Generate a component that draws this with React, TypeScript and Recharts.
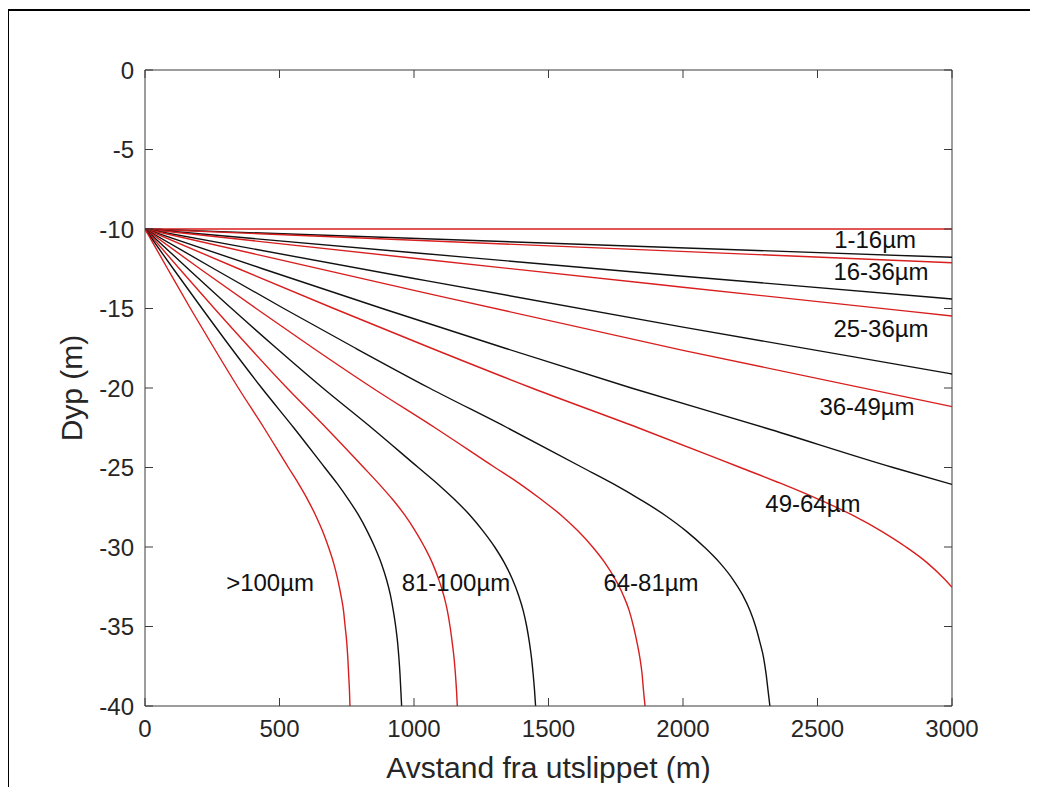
import { LineChart, Line, XAxis, YAxis, ReferenceLine, ReferenceDot } from 'recharts'

// depth levels (m) used for the steep trajectories
const depthLevels = [-10, -12.5, -15, -17.5, -20, -22.5, -25, -26, -27, -28, -29, -30, -31, -32, -33, -34, -35, -36, -37, -38, -39, -40]

// distance (m) read at each depth level
const distOver100 = [0, 84, 169, 257, 347, 442, 533, 570, 604, 634, 660, 682, 701, 716, 728, 738, 744, 750, 754, 757, 760, 762]
const dist81to100b = [0, 105, 212, 321, 434, 553, 668, 714, 756, 794, 826, 854, 878, 897, 912, 923, 932, 939, 944, 948, 951, 954]
const dist81to100r = [0, 128, 258, 391, 528, 673, 813, 868, 920, 966, 1005, 1039, 1068, 1091, 1110, 1124, 1134, 1142, 1149, 1154, 1158, 1161]
const dist64to81b = [0, 160, 322, 489, 661, 842, 1016, 1086, 1150, 1208, 1257, 1300, 1336, 1365, 1388, 1406, 1419, 1429, 1437, 1443, 1448, 1452]
const dist64to81r = [0, 204, 413, 626, 846, 1078, 1301, 1391, 1472, 1547, 1610, 1664, 1710, 1747, 1777, 1800, 1816, 1829, 1840, 1848, 1853, 1859]
const dist49to64b = [0, 256, 516, 783, 1057, 1347, 1626, 1738, 1840, 1933, 2012, 2079, 2137, 2184, 2221, 2249, 2270, 2286, 2300, 2309, 2316, 2323]

// trajectories that leave the plot at x = 3000
const dist49to64rX = [0, 348, 702, 1065, 1438, 1833, 2213, 2364, 2504, 2630, 2737, 2829, 2908, 2971, 3000]
const dist49to64rY = [-10, -12.5, -15, -17.5, -20, -22.5, -25, -26, -27, -28, -29, -30, -31, -32, -32.54]
const dist36to49bX = [0, 437, 882, 1339, 1808, 2304, 2781, 3000]
const dist36to49bY = [-10, -12.5, -15, -17.5, -20, -22.5, -25, -26.06]
const shallowX = [0, 1000, 2000, 3000]
const shallow36r = [-10, -13.86, -17.63, -21.17]
const shallow25b = [-10, -13.11, -16.17, -19.12]
const shallow25r = [-10, -11.84, -13.66, -15.47]
const shallow16b = [-10, -11.49, -12.97, -14.4]
const flatX = [0, 3000]
const flat16r = [-10, -12.12]
const flat1b = [-10, -11.78]
const flat1r = [-10, -10]

const xTicks = [0, 500, 1000, 1500, 2000, 2500, 3000]
const yTicks = [-40, -35, -30, -25, -20, -15, -10, -5, 0]

const curveLabels = [
  { text: '1-16µm', x: 2714, y: -10.65 },
  { text: '16-36µm', x: 2736, y: -12.65 },
  { text: '25-36µm', x: 2736, y: -16.25 },
  { text: '36-49µm', x: 2684, y: -21.15 },
  { text: '49-64µm', x: 2483, y: -27.25 },
  { text: '64-81µm', x: 1881, y: -32.2 },
  { text: '81-100µm', x: 1156, y: -32.2 },
  { text: '>100µm', x: 465, y: -32.2 },
]

const zip = (xs: number[], ys: number[]) => xs.map((x, i) => ({ x, y: ys[i] }))
const fromDepth = (xs: number[]) => zip(xs, depthLevels)

const RED = '#d81e1e'
const BLACK = '#111111'
const AXIS = '#3a3a3a'
const TXT = '#262626'
const FONT = 'Liberation Sans, Arial, sans-serif'

const series = [
  { id: 'r1', color: RED, data: zip(flatX, flat1r) },
  { id: 'b1', color: BLACK, data: zip(flatX, flat1b) },
  { id: 'r2', color: RED, data: zip(flatX, flat16r) },
  { id: 'b2', color: BLACK, data: zip(shallowX, shallow16b) },
  { id: 'r3', color: RED, data: zip(shallowX, shallow25r) },
  { id: 'b3', color: BLACK, data: zip(shallowX, shallow25b) },
  { id: 'r4', color: RED, data: zip(shallowX, shallow36r) },
  { id: 'b4', color: BLACK, data: zip(dist36to49bX, dist36to49bY) },
  { id: 'r5', color: RED, data: zip(dist49to64rX, dist49to64rY) },
  { id: 'b5', color: BLACK, data: fromDepth(dist49to64b) },
  { id: 'r6', color: RED, data: fromDepth(dist64to81r) },
  { id: 'b6', color: BLACK, data: fromDepth(dist64to81b) },
  { id: 'r7', color: RED, data: fromDepth(dist81to100r) },
  { id: 'b7', color: BLACK, data: fromDepth(dist81to100b) },
  { id: 'r8', color: RED, data: fromDepth(distOver100) },
]

// plot box in chart coordinates
const BOX = { left: 137, right: 944, top: 62, bottom: 698 }

const XTick = ({ x, payload }: any) => (
  <g>
    <line x1={x} x2={x} y1={BOX.bottom} y2={BOX.bottom - 8} stroke={AXIS} />
    <line x1={x} x2={x} y1={BOX.top} y2={BOX.top + 8} stroke={AXIS} />
    <text x={x} y={BOX.bottom + 22} textAnchor="middle" dominantBaseline="central" fontSize={24} fill={TXT} fontFamily={FONT}>
      {payload.value}
    </text>
  </g>
)

const YTick = ({ y, payload }: any) => (
  <g>
    <line x1={BOX.left} x2={BOX.left + 8} y1={y} y2={y} stroke={AXIS} />
    <line x1={BOX.right} x2={BOX.right - 8} y1={y} y2={y} stroke={AXIS} />
    <text x={BOX.left - 11} y={y} textAnchor="end" dominantBaseline="central" fontSize={24} fill={TXT} fontFamily={FONT}>
      {payload.value}
    </text>
  </g>
)

const XTitle = () => (
  <text x={(BOX.left + BOX.right) / 2} y={759} textAnchor="middle" dominantBaseline="central" fontSize={30} fill={TXT} fontFamily={FONT}>
    Avstand fra utslippet (m)
  </text>
)

const YTitle = () => (
  <text x={63} y={380} transform="rotate(-90 63 380)" textAnchor="middle" dominantBaseline="central" fontSize={30} fill={TXT} fontFamily={FONT}>
    Dyp (m)
  </text>
)

export default function App() {
  return (
    <div style={{ position: 'relative', width: 1022, height: 779 }}>
      <div
        style={{
          position: 'absolute',
          left: -1,
          top: 1,
          width: 1025,
          height: 800,
          border: '2px solid #000',
          boxSizing: 'border-box',
          pointerEvents: 'none',
        }}
      />
      <LineChart width={1000} height={775} margin={{ top: 62, right: 56, bottom: 0, left: 0 }}>
        <XAxis
          type="number"
          dataKey="x"
          domain={[0, 3000]}
          ticks={xTicks}
          tickLine={false}
          tickSize={0}
          tick={<XTick />}
          stroke={AXIS}
          height={77}
          allowDataOverflow
          label={{ content: <XTitle /> }}
        />
        <YAxis
          type="number"
          dataKey="y"
          domain={[-40, 0]}
          ticks={yTicks}
          tickLine={false}
          tickSize={0}
          tick={<YTick />}
          stroke={AXIS}
          width={137}
          allowDataOverflow
          label={{ content: <YTitle /> }}
        />
        <ReferenceLine y={0} stroke={AXIS} />
        <ReferenceLine x={3000} stroke={AXIS} />
        {series.map((s) => (
          <Line
            key={s.id}
            data={s.data}
            dataKey="y"
            type="monotone"
            stroke={s.color}
            strokeWidth={1.4}
            dot={false}
            isAnimationActive={false}
          />
        ))}
        {curveLabels.map((l) => (
          <ReferenceDot
            key={l.text}
            x={l.x}
            y={l.y}
            r={0.1}
            fillOpacity={0}
            stroke="none"
            label={{ value: l.text, position: 'center', fontSize: 24, fill: '#111', fontFamily: FONT }}
          />
        ))}
      </LineChart>
    </div>
  )
}
